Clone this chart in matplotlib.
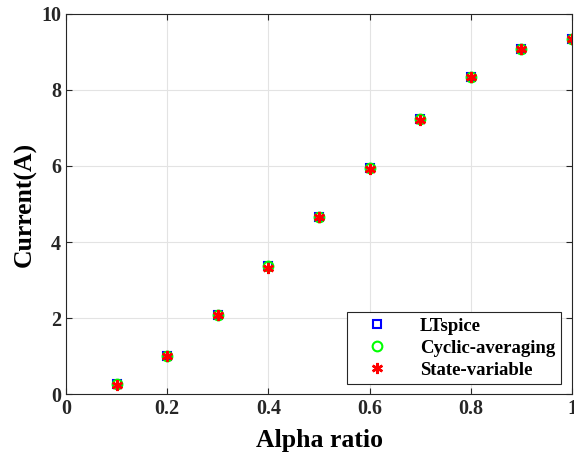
import matplotlib.pyplot as plt
import numpy as np

alpha = [0.1, 0.2, 0.3, 0.4, 0.5, 0.6, 0.7, 0.8, 0.9, 1.0]
i_ltspice = [0.26, 1.01, 2.09, 3.38, 4.67, 5.94, 7.23, 8.34, 9.07, 9.33]
i_cyclic = [0.26, 1.01, 2.09, 3.37, 4.67, 5.94, 7.23, 8.34, 9.08, 9.33]
i_state = [0.25, 1.00, 2.08, 3.31, 4.66, 5.92, 7.22, 8.33, 9.07, 9.33]

plt.rcParams['font.family'] = ['Liberation Serif', 'DejaVu Serif']
plt.rcParams['font.weight'] = 'bold'

fig = plt.figure(figsize=(5.74, 4.61), dpi=100)
ax = fig.add_axes([0.115, 0.145, 0.8815, 0.825])

ax.plot(alpha, i_ltspice, 's', mfc='none', mec='#0000ff', ms=6, mew=1.5, label='LTspice')
ax.plot(alpha, i_cyclic, 'o', mfc='none', mec='#00ff00', ms=7, mew=1.5, label='Cyclic-averaging')
ax.plot(alpha, i_state, marker=(6, 2, 0), ls='none', color='#ff0000', ms=8, mew=1.8, label='State-variable')

ax.set_xlim(0, 1)
ax.set_ylim(0, 10)
ax.set_xticks([0, 0.2, 0.4, 0.6, 0.8, 1])
ax.set_xticklabels(['0', '0.2', '0.4', '0.6', '0.8', '1'])
ax.set_yticks([0, 2, 4, 6, 8, 10])
ax.grid(True, color='#e3e3e3', lw=0.8)
ax.set_axisbelow(True)
ax.tick_params(direction='in', length=4, labelsize=14.5, top=True, right=True, colors='#262626')
for s in ax.spines.values():
    s.set_color('#262626')
ax.set_xlabel('Alpha ratio', fontsize=18.5, fontweight='bold', labelpad=7)
ax.set_ylabel('Current(A)', fontsize=18.5, fontweight='bold', labelpad=3)

leg = ax.legend(loc='lower right', fontsize=13.5, fancybox=False, edgecolor='#262626',
                framealpha=1, borderpad=0.3, handlelength=2.6, handletextpad=1.0,
                labelspacing=0.25, borderaxespad=0, bbox_to_anchor=(0.978, 0.026))
leg.get_frame().set_linewidth(0.8)

fig.savefig('out.png', dpi=100)
